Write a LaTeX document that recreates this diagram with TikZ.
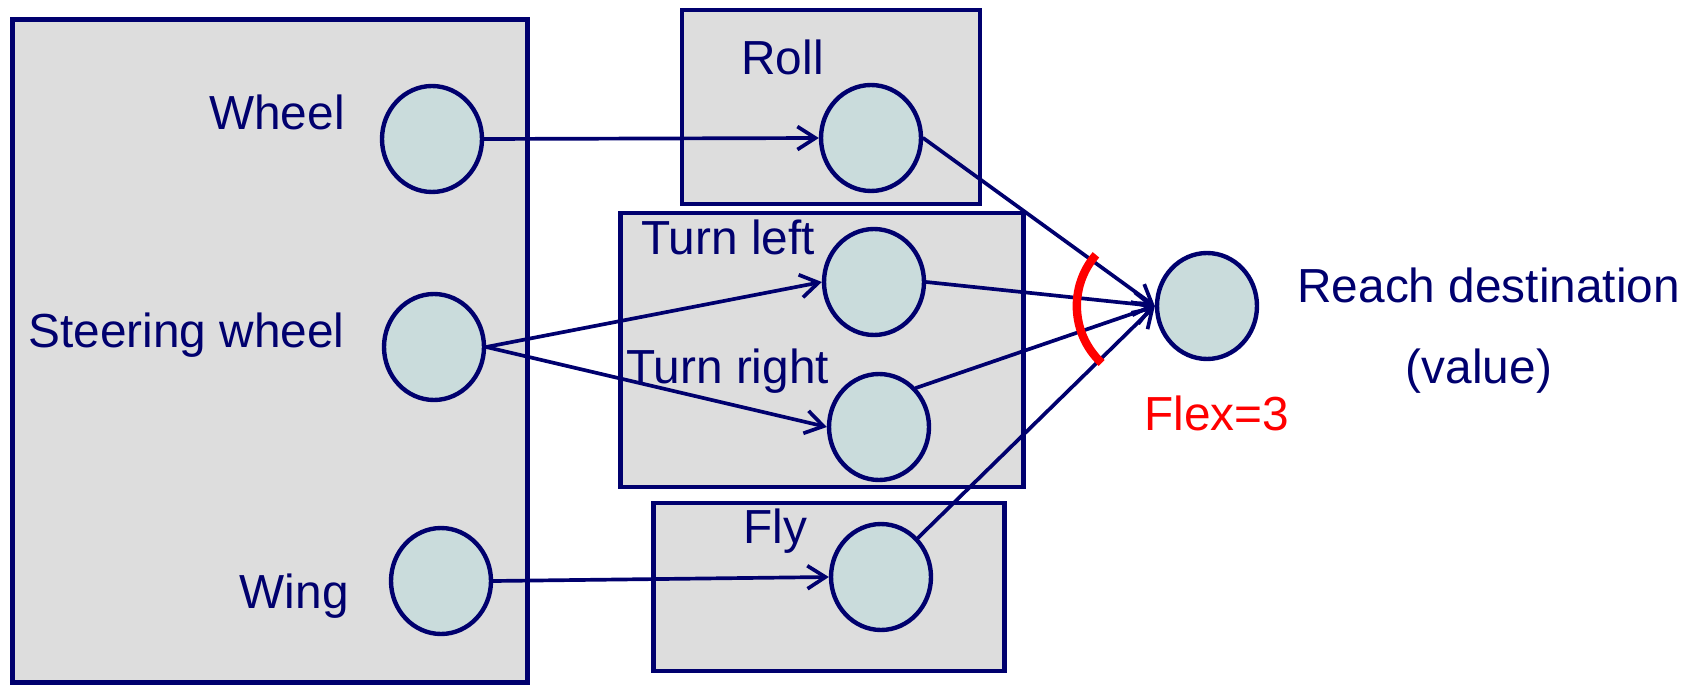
\documentclass[tikz,border=0pt]{standalone}
\usepackage{fontspec}
\setmainfont{Liberation Sans}
\usepackage{xcolor}
\usepackage{tikz}
\usetikzlibrary{shapes.geometric, arrows.meta, positioning}

\definecolor{navy}{RGB}{0,0,110}
\definecolor{boxgray}{RGB}{221,221,221}
\definecolor{slotfill}{RGB}{202,220,220}

\begin{document}
\begin{tikzpicture}[
			x=0.02cm, y=0.02cm,
			groupbox/.style={rectangle, draw=navy, fill=boxgray, line width=2.5pt, inner sep=0pt},
			slot/.style={ellipse, draw=navy, fill=slotfill, line width=2.5pt, inner sep=0pt, minimum width=2.0cm, minimum height=2.12cm},
			lbl/.style={text=navy, inner sep=0pt, font=\fontsize{27.2}{32}\selectfont},
			arrow/.style={-{Straight Barb[length=0.36cm, width=0.46cm]}, line width=2.1pt, draw=navy, line cap=round, line join=round}
		]
		\useasboundingbox (0,0) rectangle (1690,687);

		\node[groupbox, minimum width=10.30cm, minimum height=13.26cm] (parts) at (270,336) {};
		\node[groupbox, minimum width=5.96cm, minimum height=3.88cm] (rollbox) at (831,580) {};
		\node[groupbox, minimum width=8.06cm, minimum height=5.48cm] (turnbox) at (822,337) {};
		\node[groupbox, minimum width=7.02cm, minimum height=3.36cm] (flybox) at (829,100) {};

		\node[slot] (wheel) at (432,548) {};
		\node[slot] (steer) at (434,340) {};
		\node[slot] (wing) at (441,106) {};
		\node[slot] (roll) at (871,549) {};
		\node[slot] (tleft) at (874,405) {};
		\node[slot] (tright) at (879,260) {};
		\node[slot] (fly) at (881,110) {};
		\node[slot] (reach) at (1207,381) {};

		\node[lbl, anchor=base east] (wheeltxt) at (345,557) {Wheel};
		\node[lbl, anchor=base east] (steertxt) at (345,339) {Steering wheel};
		\node[lbl, anchor=base east] (wingtxt) at (349,79) {Wing};
		\node[lbl, anchor=base west] (rolltxt) at (741,612) {Roll};
		\node[lbl, anchor=base west] (tlefttxt) at (641,432) {Turn left};
		\node[lbl, anchor=base west] (trighttxt) at (626,304) {Turn right};
		\node[lbl, anchor=base west] (flytxt) at (743,144) {Fly};
		\node[lbl, anchor=base west] (reachtxt) at (1297,384) {Reach destination};
		\node[lbl, anchor=base] (valuetxt) at (1479,304) {(value)};
		\node[lbl, anchor=base west, text=red] (flextxt) at (1144,257) {Flex=3};

		\draw[arrow] (wheel.east) -- (roll.west);
		\draw[arrow] (steer.east) -- (tleft.west);
		\draw[arrow] (steer.east) -- (tright.west);
		\draw[arrow] (wing.east) -- (fly.west);
		\draw[arrow] (roll.east) -- (reach.west);
		\draw[arrow] (tleft.east) -- (reach.west);
		\draw[arrow] (tright.north east) -- (reach.west);
		\draw[arrow] (fly.north east) -- (reach.west);

		\draw[red, line width=4.8pt] ([shift={(139:1.56cm)}]reach.west) arc[start angle=139, end angle=227, radius=1.56cm];

	\end{tikzpicture}
\end{document}
